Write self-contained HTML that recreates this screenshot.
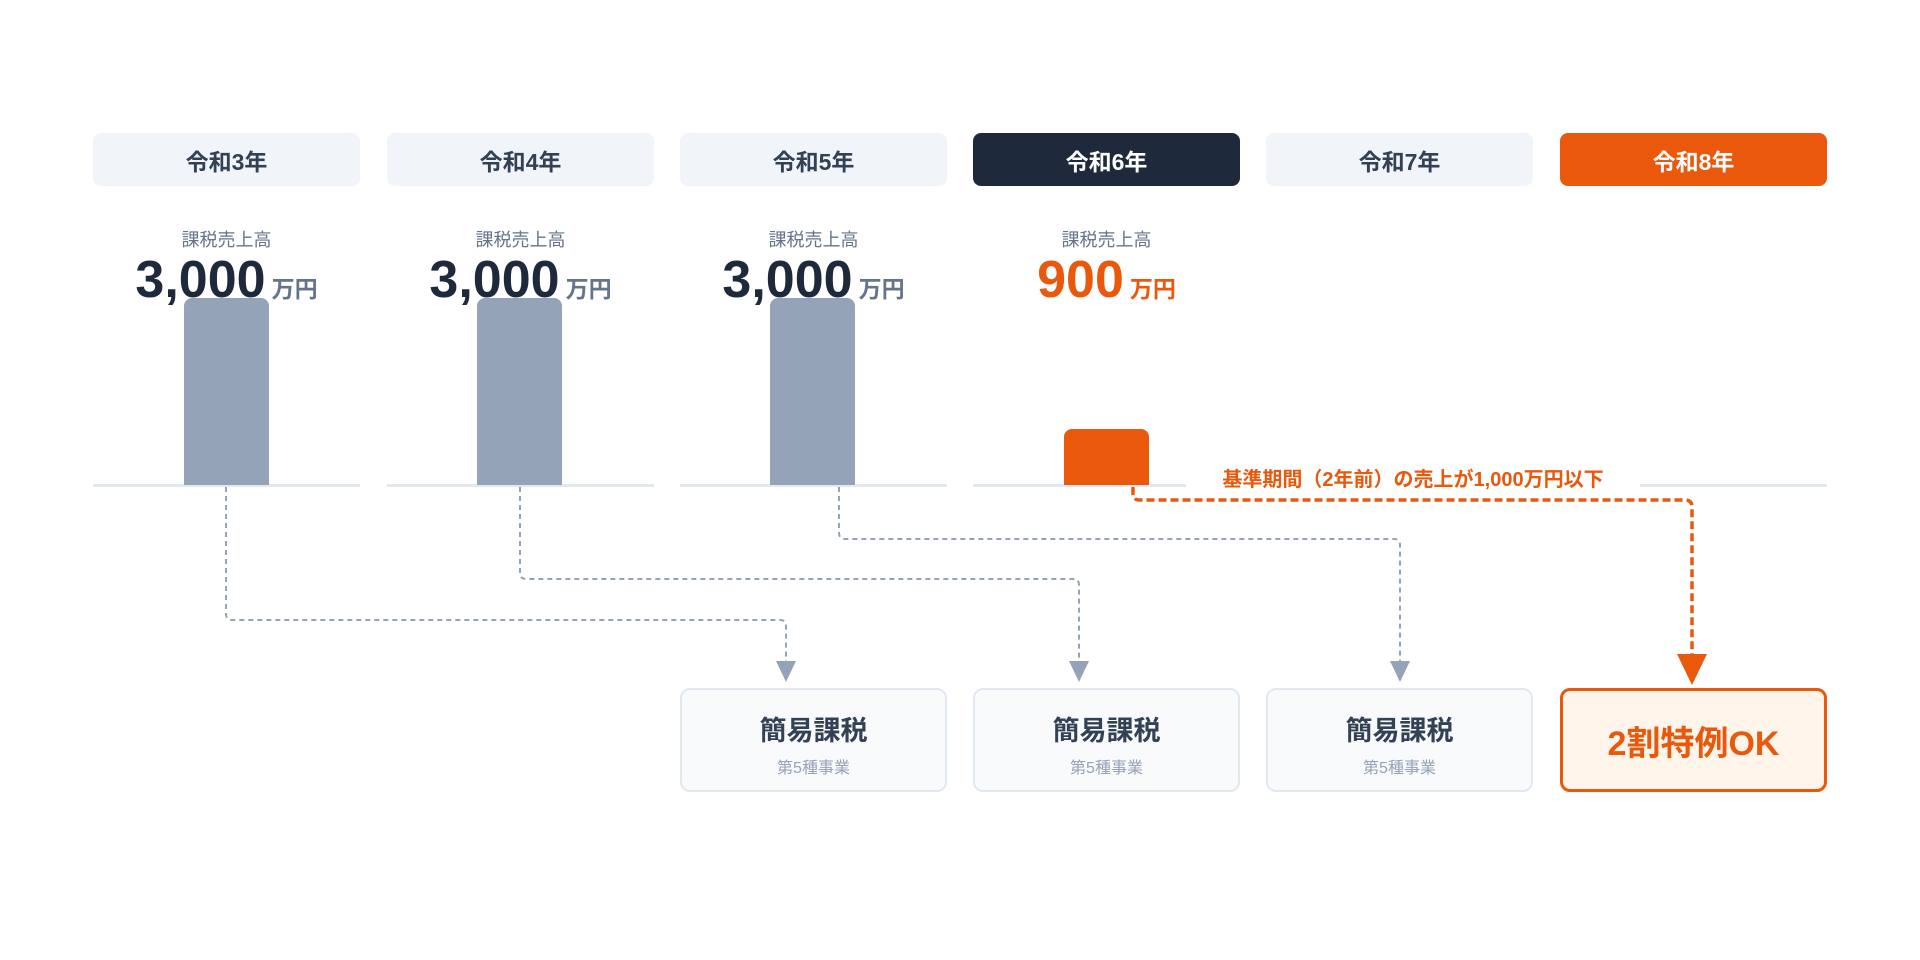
<!DOCTYPE html>
<html><head><meta charset="utf-8"><style>
*{margin:0;padding:0;box-sizing:border-box}
body{width:1920px;height:960px;background:#fff;position:relative;overflow:hidden;font-family:"Liberation Sans","Noto Sans CJK JP",sans-serif}
.a{position:absolute}
.h{position:absolute;top:133px;width:267px;height:53px;border-radius:8px;background:#f1f4f8;color:#334155;font-weight:700;font-size:23px;display:flex;align-items:center;justify-content:center}
.lbl{position:absolute;top:226px;width:267px;text-align:center;color:#64748b;font-size:18px}
.val{position:absolute;top:250px;width:267px;text-align:center;white-space:nowrap;color:#1e293b;font-weight:700;font-size:52px;line-height:60px}
.val span{font-size:23px;color:#64748b;margin-left:6px}
.bar{position:absolute;top:298px;width:85px;height:187px;background:#94a3b8;border-radius:8px 8px 0 0}
.base{position:absolute;top:484px;width:267px;height:3px;background:#e2e8f0}
.box{position:absolute;top:688px;width:267px;height:104px;border:2px solid #e2e8f0;border-radius:10px;background:#f8fafc;text-align:center}
.box b{display:block;margin-top:24px;font-size:27px;color:#334155;line-height:34px}
.box i{display:block;font-style:normal;font-size:16px;color:#94a3b8;margin-top:6px}
</style></head><body>
<div class="h" style="left:93px">令和3年</div>
<div class="h" style="left:387px">令和4年</div>
<div class="h" style="left:680px">令和5年</div>
<div class="h" style="left:973px;background:#1e293b;color:#fff">令和6年</div>
<div class="h" style="left:1266px">令和7年</div>
<div class="h" style="left:1560px;background:#ea580c;color:#fff">令和8年</div>

<div class="lbl" style="left:93px">課税売上高</div>
<div class="lbl" style="left:387px">課税売上高</div>
<div class="lbl" style="left:680px">課税売上高</div>
<div class="lbl" style="left:973px">課税売上高</div>
<div class="val" style="left:93px">3,000<span>万円</span></div>
<div class="val" style="left:387px">3,000<span>万円</span></div>
<div class="val" style="left:680px">3,000<span>万円</span></div>
<div class="val" style="left:973px;color:#ea580c">900<span style="color:#ea580c">万円</span></div>

<div class="base" style="left:93px"></div>
<div class="base" style="left:387px"></div>
<div class="base" style="left:680px"></div>
<div class="base" style="left:973px"></div>
<div class="base" style="left:1266px"></div>
<div class="base" style="left:1560px"></div>

<div class="bar" style="left:184px"></div>
<div class="bar" style="left:477px"></div>
<div class="bar" style="left:770px"></div>
<div class="bar" style="left:1064px;top:429px;height:56px;background:#ea580c"></div>

<div class="a" style="left:1186px;top:465px;width:454px;height:30px;background:#fff;text-align:center;color:#ea580c;font-weight:700;font-size:20px;line-height:30px">基準期間（2年前）の売上が1,000万円以下</div>

<svg class="a" style="left:0;top:0" width="1920" height="960">
<g fill="none" stroke="#94a3b8" stroke-width="2" stroke-dasharray="5 4">
<path d="M226 487 V614 Q226 620 232 620 H780 Q786 620 786 626 V664"/>
<path d="M520 487 V573 Q520 579 526 579 H1073 Q1079 579 1079 585 V664"/>
<path d="M839 487 V533 Q839 539 845 539 H1394 Q1400 539 1400 545 V664"/>
</g>
<g fill="#94a3b8">
<path d="M776 661 H796 L786 682 Z"/>
<path d="M1069 661 H1089 L1079 682 Z"/>
<path d="M1390 661 H1410 L1400 682 Z"/>
</g>
<path d="M1133 487 V494 Q1133 500 1140 500 H1685 Q1692 500 1692 507 V658" fill="none" stroke="#ea580c" stroke-width="3.5" stroke-dasharray="8 4"/>
<path d="M1677 654 H1707 L1692 685 Z" fill="#ea580c"/>
</svg>

<div class="box" style="left:680px"><b>簡易課税</b><i>第5種事業</i></div>
<div class="box" style="left:973px"><b>簡易課税</b><i>第5種事業</i></div>
<div class="box" style="left:1266px"><b>簡易課税</b><i>第5種事業</i></div>
<div class="box" style="left:1560px;border:3px solid #ea580c;background:#fff5eb;display:flex;align-items:center;justify-content:center;color:#ea580c;font-weight:700;font-size:34px">2割特例OK</div>
</body></html>
